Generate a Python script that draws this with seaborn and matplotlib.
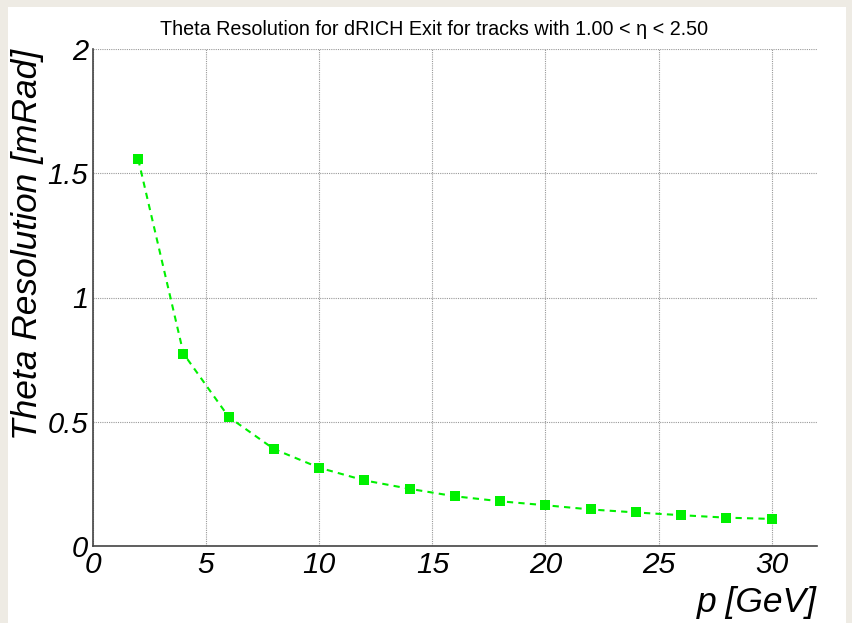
import matplotlib
matplotlib.use("Agg")
import matplotlib.pyplot as plt
from matplotlib.ticker import MultipleLocator, FixedLocator, FixedFormatter
from matplotlib.patches import Rectangle
import seaborn as sns
import pandas as pd

# ---- data ----
momentum = [2, 4, 6, 8, 10, 12, 14, 16, 18, 20, 22, 24, 26, 28, 30]
theta_res = [1.556, 0.774, 0.519, 0.390, 0.315, 0.264, 0.230, 0.200,
             0.180, 0.164, 0.147, 0.135, 0.124, 0.114, 0.109]
theta_err = [0.020, 0.008, 0.005, 0.004, 0.003, 0.003, 0.002, 0.002,
             0.002, 0.002, 0.002, 0.002, 0.002, 0.002, 0.002]
x_ticks = [0, 5, 10, 15, 20, 25, 30]
x_tick_labels = ["0", "5", "10", "15", "20", "25", "30"]
y_ticks = [0, 0.5, 1, 1.5, 2]
y_tick_labels = ["0", "0.5", "1", "1.5", "2"]
title = "Theta Resolution for dRICH Exit for tracks with 1.00 < \u03b7 < 2.50"
x_label = "p [GeV]"
y_label = "Theta Resolution [mRad]"

df = pd.DataFrame({"p": momentum, "res": theta_res, "err": theta_err})

sns.set_style("white")
plt.rcParams['font.family'] = ['Liberation Sans', 'DejaVu Sans']
plt.rcParams['text.color'] = 'black'
plt.rcParams['axes.labelcolor'] = 'black'
plt.rcParams['xtick.labelcolor'] = 'black'
plt.rcParams['ytick.labelcolor'] = 'black'

fig = plt.figure(figsize=(8.53, 6.23), dpi=100)
fig.patch.set_facecolor("#eeebe4")
fig.patches.append(Rectangle((8 / 853, 0), (846 - 8) / 853, (623 - 7) / 623,
                             transform=fig.transFigure, facecolor="white",
                             edgecolor="none", zorder=-10))
ax = fig.add_axes([93 / 853, 1 - 546 / 623, (817 - 93) / 853, (546 - 49) / 623])
ax.set_facecolor("white")

green = "#00f000"
ax.errorbar(df["p"], df["res"], yerr=df["err"], fmt="none", ecolor=green,
            elinewidth=1.5, capsize=0, zorder=3)
sns.lineplot(data=df, x="p", y="res", ax=ax, color=green, marker="s",
             markersize=6.5, markeredgewidth=0, linewidth=1.5,
             linestyle=(0, (3, 2.5)), zorder=4)

ax.set_xlim(0, 32)
ax.set_ylim(0, 2)
ax.xaxis.set_major_locator(FixedLocator(x_ticks))
ax.xaxis.set_major_formatter(FixedFormatter(x_tick_labels))
ax.yaxis.set_major_locator(FixedLocator(y_ticks))
ax.yaxis.set_major_formatter(FixedFormatter(y_tick_labels))
ax.xaxis.set_minor_locator(MultipleLocator(2.5))
ax.yaxis.set_minor_locator(MultipleLocator(0.1))

ax.grid(True, which="major", linestyle=(0, (1, 1)), color="#999999",
        linewidth=0.8)
ax.set_axisbelow(True)

for s in ["top", "right"]:
    ax.spines[s].set_visible(False)
for s in ["left", "bottom"]:
    ax.spines[s].set_color("#444444")
    ax.spines[s].set_linewidth(1.2)

ax.tick_params(axis="x", which="major", direction="in", length=11.5,
               width=1.1, color="#444444", labelsize=21.5, pad=3.5)
ax.tick_params(axis="x", which="minor", direction="in", length=5.8,
               width=1.1, color="#444444")
ax.tick_params(axis="y", which="major", direction="in", length=16,
               width=1.1, color="#444444", labelsize=21, pad=3.5)
ax.tick_params(axis="y", which="minor", direction="in", length=8,
               width=1.1, color="#444444")
for lab in ax.get_xticklabels() + ax.get_yticklabels():
    lab.set_fontstyle("italic")

ax.set_xlabel(x_label, fontsize=25.5, fontstyle="italic", loc="right")
ax.xaxis.set_label_coords(1.0, -0.08)
ax.set_ylabel(y_label, fontsize=25.5, fontstyle="italic", loc="top")
ax.yaxis.set_label_coords(-0.068, 1.0)

ax.set_title(title, fontsize=14.2, x=0.471, pad=10)

fig.savefig("out.png", dpi=100, facecolor=fig.get_facecolor())
